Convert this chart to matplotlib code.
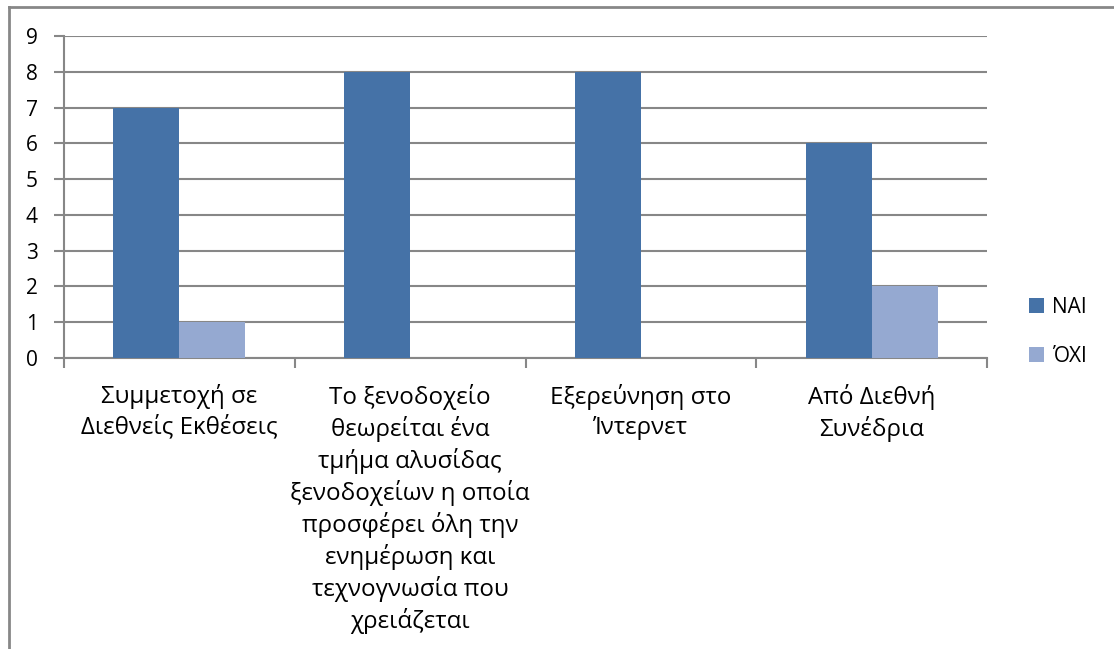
import matplotlib
matplotlib.use("Agg")
import matplotlib.pyplot as plt
from matplotlib.lines import Line2D
from matplotlib.patches import Patch
import numpy as np

plt.rcParams['font.family'] = ['Open Sans', 'DejaVu Sans']

categories = [
    "Συμμετοχή σε\nΔιεθνείς Εκθέσεις",
    "Το ξενοδοχείο\nθεωρείται ένα\nτμήμα αλυσίδας\nξενοδοχείων η οποία\nπροσφέρει όλη την\nενημέρωση και\nτεχνογνωσία που\nχρειάζεται",
    "Εξερεύνηση στο\nΊντερνετ",
    "Από Διεθνή\nΣυνέδρια",
]
series_names = ["ΝΑΙ", "ΌΧΙ"]
nai = [7, 8, 8, 6]
oxi = [1, 0, 0, 2]
yticks = list(range(0, 10))

c_nai = "#4572A7"
c_oxi = "#95A9D1"
grid_c = "#878787"

W, H = 1114, 649
fig = plt.figure(figsize=(W / 100, H / 100), dpi=100)
ax = fig.add_axes([64 / W, 1 - 358 / H, (987 - 64) / W, (358 - 36) / H])

x = np.arange(len(categories))
bw = 0.286
ax.bar(x - bw / 2, nai, bw, color=c_nai, label=series_names[0], zorder=3)
ax.bar(x + bw / 2, oxi, bw, color=c_oxi, label=series_names[1], zorder=3)

ax.set_xlim(-0.5, len(categories) - 0.5)
ax.set_ylim(0, 9)
ax.set_yticks(yticks)
ax.set_yticklabels([str(v) for v in yticks], fontsize=15)
ax.yaxis.grid(True, color=grid_c, linewidth=1.5, zorder=0)
ax.set_axisbelow(True)

# category boundaries get the tick marks, labels sit at the centres
ax.set_xticks(np.arange(-0.5, len(categories), 1.0))
ax.set_xticklabels([])
ax.set_xticks(x, minor=True)
ax.set_xticklabels(categories, minor=True, fontsize=17.4, linespacing=1.30,
                   va="top")
ax.tick_params(axis="x", which="minor", length=0, pad=19)
ax.tick_params(axis="x", which="major", length=7, width=1.5, color=grid_c,
               direction="out")
ax.tick_params(axis="y", length=7, width=1.5, color=grid_c, pad=12)

for s in ["top", "right"]:
    ax.spines[s].set_visible(False)
for s in ["left", "bottom"]:
    ax.spines[s].set_color(grid_c)
    ax.spines[s].set_linewidth(1.5)

handles = [Patch(facecolor=c_nai), Patch(facecolor=c_oxi)]
fig.legend(handles, series_names, loc="center left",
           bbox_to_anchor=(1029 / W, 1 - 332 / H), frameon=False,
           fontsize=15, handlelength=0.72, handleheight=0.72,
           handletextpad=0.4, labelspacing=1.35, borderpad=0,
           borderaxespad=0)

# outer chart frame
fig.add_artist(Line2D([9 / W, 1.0], [1 - 7 / H, 1 - 7 / H],
                      transform=fig.transFigure, color=grid_c, linewidth=2))
fig.add_artist(Line2D([9 / W, 9 / W], [1 - 7 / H, 0.0],
                      transform=fig.transFigure, color=grid_c, linewidth=2))

fig.savefig("out.png", dpi=100, facecolor="white")
